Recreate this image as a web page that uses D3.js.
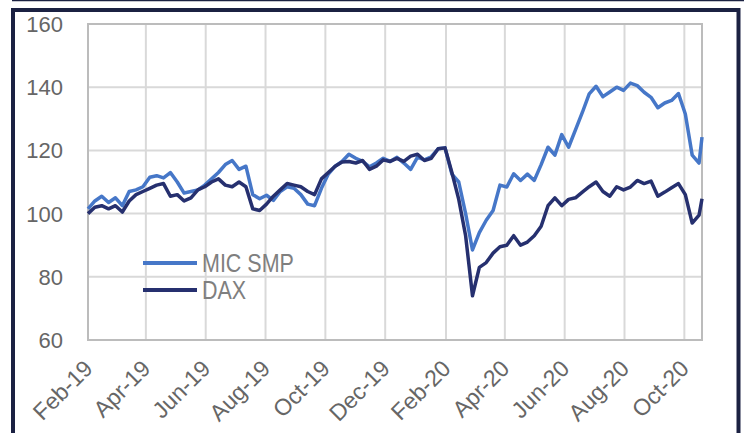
<!DOCTYPE html>
<html>
<head>
<meta charset="utf-8">
<script src="https://cdn.jsdelivr.net/npm/d3@7"></script>
<style>
  body { margin: 0; background: #fff; }
  svg { display: block; }
</style>
</head>
<body>
<div id="chart"></div>
<script>
// weekly closes, rebased to 100 on 1 Feb 2019
const dates = [
  '2019-02-01','2019-02-08','2019-02-15','2019-02-22','2019-03-01','2019-03-08','2019-03-15','2019-03-22','2019-03-29',
  '2019-04-05','2019-04-12','2019-04-19','2019-04-26','2019-05-03','2019-05-10','2019-05-17','2019-05-24','2019-05-31',
  '2019-06-07','2019-06-14','2019-06-21','2019-06-28','2019-07-05','2019-07-12','2019-07-19','2019-07-26',
  '2019-08-02','2019-08-09','2019-08-16','2019-08-23','2019-08-30','2019-09-06','2019-09-13','2019-09-20','2019-09-27',
  '2019-10-04','2019-10-11','2019-10-18','2019-10-25','2019-11-01','2019-11-08','2019-11-15','2019-11-22','2019-11-29',
  '2019-12-06','2019-12-13','2019-12-20','2019-12-27','2020-01-03','2020-01-10','2020-01-17','2020-01-24','2020-01-31',
  '2020-02-07','2020-02-14','2020-02-21','2020-02-28','2020-03-06','2020-03-13','2020-03-20','2020-03-27',
  '2020-04-03','2020-04-10','2020-04-17','2020-04-24','2020-05-01','2020-05-08','2020-05-15','2020-05-22','2020-05-29',
  '2020-06-05','2020-06-12','2020-06-19','2020-06-26','2020-07-03','2020-07-10','2020-07-17','2020-07-24','2020-07-31',
  '2020-08-07','2020-08-14','2020-08-21','2020-08-28','2020-09-04','2020-09-11','2020-09-18','2020-09-25',
  '2020-10-02','2020-10-09','2020-10-16','2020-10-19'
]

const micSmp = [
  101.5, 104, 105.5, 103.5, 105, 102.5, 107, 107.5, 108.5,
  111.5, 112, 111.3, 113, 110, 106.5, 107, 107.5, 109,
  111, 113, 115.5, 116.8, 114, 115, 106, 104.7,
  105.8, 104.2, 107, 108.5, 108, 106, 103, 102.5, 108,
  112.5, 115, 116.5, 118.8, 117.5, 116.5, 114.8, 116, 117.5,
  116.5, 117.8, 116, 114, 117.9, 117, 118, 120.5, 120.8,
  112.5, 110, 100, 88.5, 94, 97.9, 101, 109,
  108.4, 112.6, 110.5, 112.5, 110.5, 115.5, 121, 118.5, 125,
  121, 126.5, 132, 137.9, 140.3, 137, 138.5, 140, 139,
  141.3, 140.5, 138.4, 136.8, 133.5, 135, 135.8, 138,
  131.5, 118.5, 116, 124.2
]

const dax = [
  100, 102, 102.5, 101.5, 102.5, 100.5, 104, 106, 107,
  108, 109, 109.5, 105.5, 106, 104, 105, 107.5, 108.5,
  110, 111, 109, 108.5, 110, 108.5, 101.5, 101,
  103, 105.5, 107.5, 109.5, 109, 108.5, 107, 106, 111,
  113, 115, 116.3, 116.5, 116, 116.8, 114, 115, 117,
  116.5, 117.5, 116.5, 118.2, 118.8, 116.8, 117.5, 120.5, 120.8,
  113, 104.5, 93, 74, 83, 84.5, 87.5, 89.5,
  90, 93, 90, 91, 93, 96, 102.5, 105, 102.5,
  104.5, 105, 106.8, 108.5, 110, 107, 105.5, 108.5, 107.5,
  108.4, 110.5, 109.5, 110.3, 105.5, 106.8, 108.2, 109.5,
  106, 97, 99.5, 104.7
]

const seriesNames = ['MIC SMP', 'DAX']
const seriesColors = ['#4677c8', '#26306f']
const yTicks = [60, 80, 100, 120, 140, 160]
const xTickDates = ['2019-02-01', '2019-04-01', '2019-06-01', '2019-08-01', '2019-10-01', '2019-12-01',
  '2020-02-01', '2020-04-01', '2020-06-01', '2020-08-01', '2020-10-01']

const W = 749, H = 433
const plot = { left: 88, top: 24, right: 702, bottom: 340 }

const parse = d3.utcParse('%Y-%m-%d')
const dateObjs = dates.map(parse)
const xTicks = xTickDates.map(parse)
const fmt = d3.utcFormat('%b-%y')

const svg = d3.select('#chart').append('svg')
  .attr('width', W).attr('height', H)

// outer frame
svg.append('line')
  .attr('x1', 12).attr('x2', 744).attr('y1', 0.5).attr('y2', 0.5)
  .attr('stroke', '#1b2142').attr('stroke-width', 1.5)
svg.append('rect')
  .attr('x', 13).attr('y', 10).attr('width', 725.5).attr('height', 500)
  .attr('fill', 'none').attr('stroke', '#1b2142').attr('stroke-width', 4)

const x = d3.scaleUtc()
  .domain([parse('2019-02-01'), parse('2020-10-19')])
  .range([plot.left, plot.right])
const y = d3.scaleLinear().domain([60, 160]).range([plot.bottom, plot.top])

// grid
svg.append('g').selectAll('line').data(yTicks).join('line')
  .attr('x1', plot.left).attr('x2', plot.right)
  .attr('y1', d => y(d)).attr('y2', d => y(d))
  .attr('stroke', '#d9d9d9').attr('stroke-width', 2)
svg.append('g').selectAll('line').data(xTicks).join('line')
  .attr('x1', d => x(d)).attr('x2', d => x(d))
  .attr('y1', plot.top).attr('y2', plot.bottom)
  .attr('stroke', '#d9d9d9').attr('stroke-width', 2)

svg.append('rect')
  .attr('x', plot.left).attr('y', plot.top)
  .attr('width', plot.right - plot.left).attr('height', plot.bottom - plot.top)
  .attr('fill', 'none').attr('stroke', '#bcbcbc').attr('stroke-width', 2)

// y labels
svg.append('g').selectAll('text').data(yTicks).join('text')
  .attr('x', 63).attr('y', d => y(d)).attr('dy', '0.36em')
  .attr('text-anchor', 'end')
  .attr('font-family', 'Liberation Sans, Arial, sans-serif').attr('font-size', 22)
  .attr('fill', '#666')
  .text(d => d)

// x labels, rotated
svg.append('g').selectAll('text').data(xTicks).join('text')
  .attr('transform', d => `translate(${x(d) + 6},370) rotate(-45)`)
  .attr('text-anchor', 'end')
  .attr('font-family', 'Liberation Sans, Arial, sans-serif').attr('font-size', 23)
  .attr('fill', '#666')
  .text(d => fmt(d))

// lines
const line = d3.line().x((d, i) => x(dateObjs[i])).y(d => y(d))
const allSeries = [micSmp, dax]
allSeries.forEach((vals, k) => {
  svg.append('path')
    .datum(vals)
    .attr('fill', 'none')
    .attr('stroke', seriesColors[k])
    .attr('stroke-width', 3.5)
    .attr('stroke-linejoin', 'round')
    .attr('d', line)
})

// legend (narrow text)
const lg = svg.append('g')
seriesNames.forEach((name, k) => {
  const ly = 263 + k * 27
  lg.append('line')
    .attr('x1', 143).attr('x2', 197).attr('y1', ly).attr('y2', ly)
    .attr('stroke', seriesColors[k]).attr('stroke-width', 4)
  lg.append('text')
    .attr('transform', `translate(202,${ly}) scale(0.86,1)`)
    .attr('dy', '0.36em')
    .attr('font-family', 'Liberation Sans, Arial, sans-serif')
    .attr('font-size', 25)
    .attr('fill', '#7f7f7f')
    .text(name)
})
</script>
</body>
</html>
